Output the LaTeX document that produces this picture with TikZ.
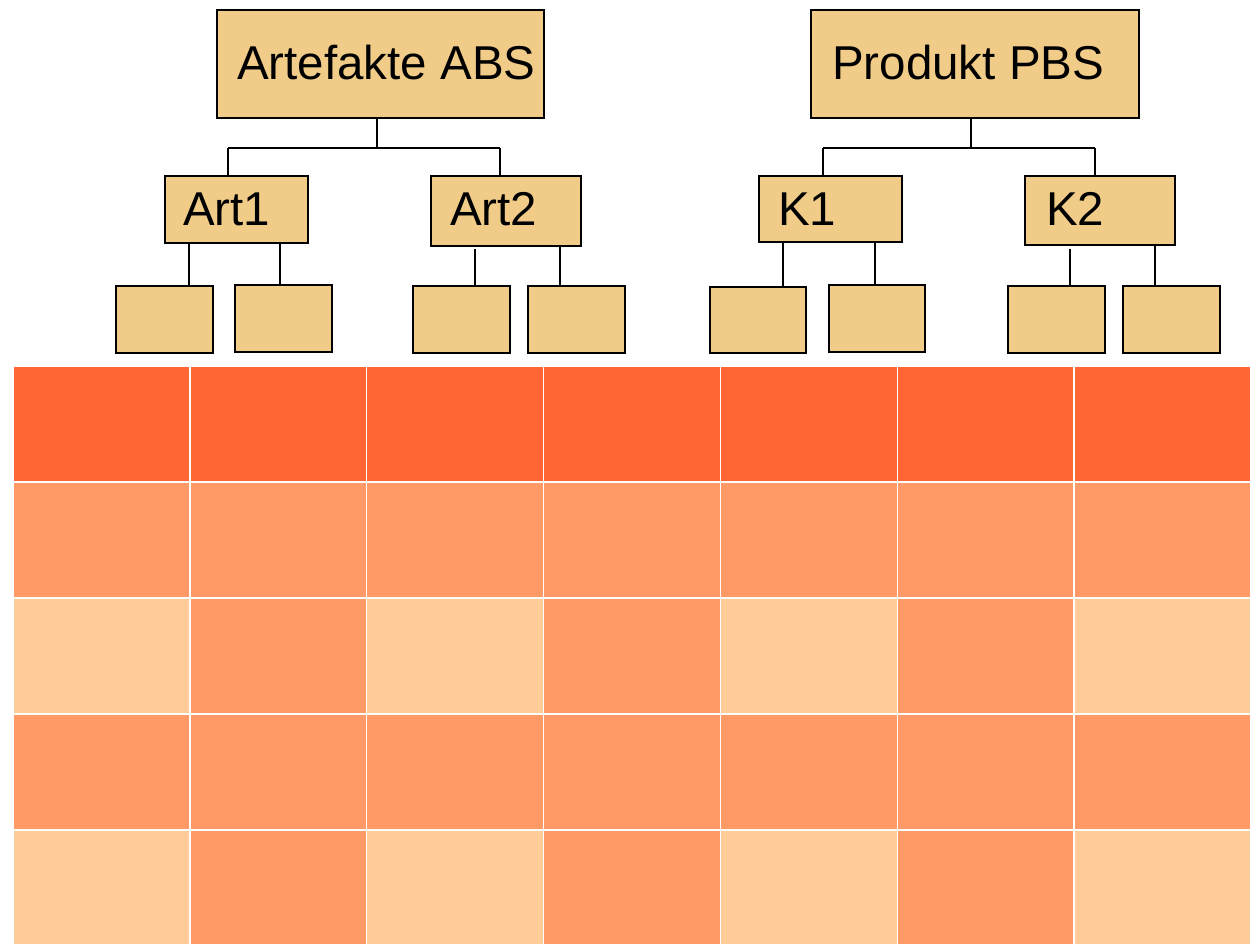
\documentclass[tikz,border=0pt]{standalone}
\usepackage{fontspec}
\setmainfont{Liberation Sans}
\definecolor{boxfill}{HTML}{F0CC88}
\definecolor{celldark}{HTML}{FF6633}
\definecolor{cellmid}{HTML}{FF9966}
\definecolor{celllight}{HTML}{FFCC99}
\tikzset{
  box/.style={draw=black, line width=2pt, fill=boxfill, inner sep=0pt, anchor=north west},
  lbl/.style={anchor=base west, inner sep=0pt, font=\fontsize{47.5}{57}\selectfont},
  link/.style={draw=black, line width=2pt},
  cell/.style={draw=white, line width=1.5pt}
}
\begin{document}
\begin{tikzpicture}[x=1pt, y=-1pt]
\useasboundingbox (0,0) rectangle (1251,944);

% ---------- matrix of cells ----------
\def\cw{176.857}
\foreach \c in {0,...,6} {
  \pgfmathsetmacro{\xa}{13+\c*\cw}
  \pgfmathsetmacro{\xb}{13+(\c+1)*\cw}
  \pgfmathtruncatemacro{\odd}{mod(\c,2)}
  % row 1
  \filldraw[cell, fill=celldark] (\xa,366) rectangle (\xb,482);
  % row 2
  \filldraw[cell, fill=cellmid] (\xa,482) rectangle (\xb,598);
  % row 4
  \filldraw[cell, fill=cellmid] (\xa,714) rectangle (\xb,830);
  % rows 3 and 5 alternate
  \ifnum\odd=0
    \filldraw[cell, fill=celllight] (\xa,598) rectangle (\xb,714);
    \filldraw[cell, fill=celllight] (\xa,830) rectangle (\xb,946);
  \else
    \filldraw[cell, fill=cellmid] (\xa,598) rectangle (\xb,714);
    \filldraw[cell, fill=cellmid] (\xa,830) rectangle (\xb,946);
  \fi
}

% ---------- ABS tree ----------
\node[box, minimum width=327pt, minimum height=108pt] (abs) at (216,9) {};
\node[lbl] (absT) at (237,80) {Artefakte ABS};
\node[box, minimum width=143pt, minimum height=67pt] (art1) at (164,175) {};
\node[lbl] (art1T) at (183,226) {Art1};
\node[box, minimum width=150pt, minimum height=70pt] (art2) at (430,175) {};
\node[lbl] (art2T) at (450,226) {Art2};
\node[box, minimum width=97pt, minimum height=67pt] (a11) at (115,285) {};
\node[box, minimum width=97pt, minimum height=67pt] (a12) at (234,284) {};
\node[box, minimum width=97pt, minimum height=67pt] (a21) at (412,285) {};
\node[box, minimum width=97pt, minimum height=67pt] (a22) at (527,285) {};

\coordinate (absM) at (377,148);
\coordinate (absL) at (228,148);
\coordinate (absR) at (500,148);
\draw[link] (absM |- abs.south) -- (absM);
\draw[link] (absL) -- (absR);
\draw[link] (absL) -- (absL |- art1.north);
\draw[link] (absR) -- (absR |- art2.north);

\coordinate (x11) at (189,0);
\coordinate (x12) at (280,0);
\coordinate (x21) at (475,249);
\coordinate (x22) at (560,0);
\draw[link] (x11 |- art1.south) -- (x11 |- a11.north);
\draw[link] (x12 |- art1.south) -- (x12 |- a12.north);
\draw[link] (x21) -- (x21 |- a21.north);
\draw[link] (x22 |- art2.south) -- (x22 |- a22.north);

% ---------- PBS tree ----------
\node[box, minimum width=328pt, minimum height=108pt] (pbs) at (810,9) {};
\node[lbl] (pbsT) at (832,80) {Produkt PBS};
\node[box, minimum width=143pt, minimum height=66pt] (k1) at (758,175) {};
\node[lbl] (k1T) at (778,226) {K1};
\node[box, minimum width=150pt, minimum height=69pt] (k2) at (1024,175) {};
\node[lbl] (k2T) at (1046,226) {K2};
\node[box, minimum width=96pt, minimum height=66pt] (k11) at (709,286) {};
\node[box, minimum width=96pt, minimum height=67pt] (k12) at (828,284) {};
\node[box, minimum width=97pt, minimum height=67pt] (k21) at (1007,285) {};
\node[box, minimum width=97pt, minimum height=67pt] (k22) at (1122,285) {};

\coordinate (pbsM) at (971,148);
\coordinate (pbsL) at (823,148);
\coordinate (pbsR) at (1095,148);
\draw[link] (pbsM |- pbs.south) -- (pbsM);
\draw[link] (pbsL) -- (pbsR);
\draw[link] (pbsL) -- (pbsL |- k1.north);
\draw[link] (pbsR) -- (pbsR |- k2.north);

\coordinate (y11) at (783,0);
\coordinate (y12) at (875,0);
\coordinate (y21) at (1070,249);
\coordinate (y22) at (1155,0);
\draw[link] (y11 |- k1.south) -- (y11 |- k11.north);
\draw[link] (y12 |- k1.south) -- (y12 |- k12.north);
\draw[link] (y21) -- (y21 |- k21.north);
\draw[link] (y22 |- k2.south) -- (y22 |- k22.north);
\end{tikzpicture}
\end{document}
